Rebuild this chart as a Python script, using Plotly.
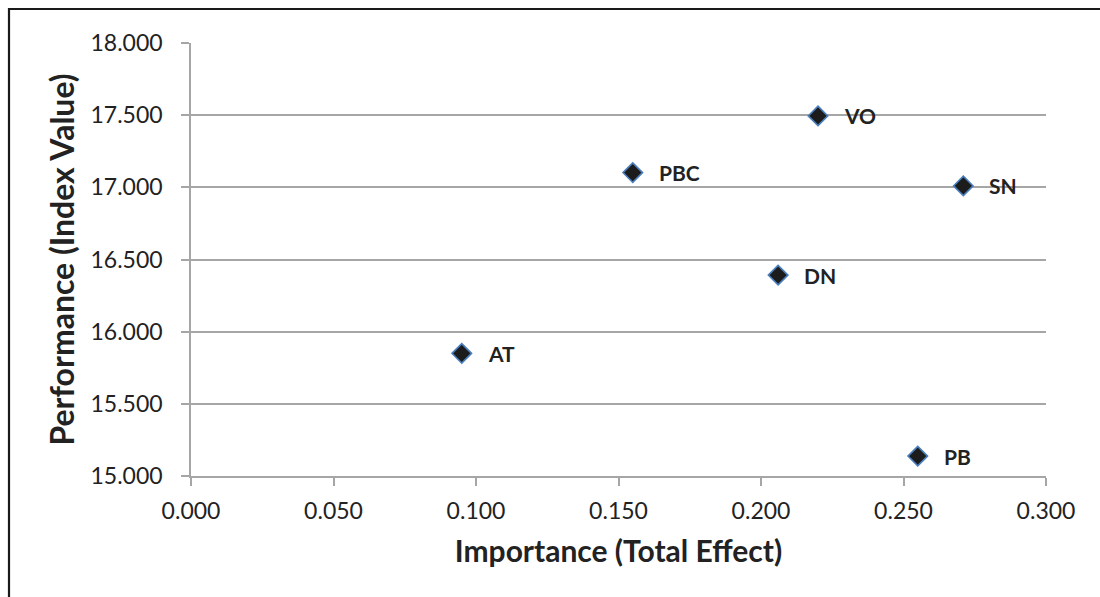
import plotly.graph_objects as go

# Importance-performance map of the model constructs
constructs = ["VO", "PBC", "SN", "DN", "AT", "PB"]
importance = [0.220, 0.155, 0.271, 0.206, 0.095, 0.255]
performance = [17.495, 17.102, 17.010, 16.392, 15.850, 15.138]

x_ticks = [0.0, 0.05, 0.10, 0.15, 0.20, 0.25, 0.30]
y_ticks = [15.0, 15.5, 16.0, 16.5, 17.0, 17.5, 18.0]

FONT = "Lato, 'Open Sans', sans-serif"
TXT = "#222222"
GRID = "#a6a6a6"

fig = go.Figure()
fig.add_trace(go.Scatter(
    x=importance, y=performance, mode="markers",
    marker=dict(symbol="diamond", size=15, color="#1c1c1c",
                line=dict(color="#4a7ebb", width=1.6)),
    hoverinfo="skip", showlegend=False,
))

for name, xv, yv in zip(constructs, importance, performance):
    fig.add_annotation(x=xv, y=yv, text=f"<b>{name}</b>", showarrow=False,
                       xanchor="left", yanchor="middle", xshift=24,
                       font=dict(family=FONT, size=21, color=TXT))

L, R, T, B = 191, 54, 43, 121
W, H = 1100, 597
pw, ph = W - L - R, H - T - B

# outer chart frame: left and top edges, running off the right and bottom
fx0 = (9 - L) / pw
fx1 = (W + 20 - L) / pw
fy1 = (H - 9 - B) / ph
fy0 = (-B - 20) / ph
fig.add_shape(type="rect", xref="paper", yref="paper",
              x0=fx0, x1=fx1, y0=fy0, y1=fy1,
              line=dict(color="#1a1a1a", width=2.2), layer="below")

fig.update_xaxes(
    range=[0, 0.3], tickvals=x_ticks, tickformat=".3f",
    showgrid=False, zeroline=False,
    showline=True, linecolor=GRID, linewidth=1.6,
    ticks="outside", ticklen=8, tickcolor=GRID, tickwidth=1.6,
    ticklabelstandoff=6,
    tickfont=dict(family=FONT, size=23, color=TXT),
    title=dict(text="<b>Importance (Total Effect)</b>", standoff=18,
               font=dict(family=FONT, size=30, color=TXT)),
)
fig.update_yaxes(
    range=[15, 18], tickvals=y_ticks, tickformat=".3f",
    showgrid=True, gridcolor=GRID, gridwidth=1.6, zeroline=False,
    showline=True, linecolor=GRID, linewidth=1.6,
    ticks="outside", ticklen=8, tickcolor=GRID, tickwidth=1.6,
    ticklabelstandoff=14,
    tickfont=dict(family=FONT, size=23, color=TXT),
    title=dict(text="<b>Performance (Index Value)</b>", standoff=6,
               font=dict(family=FONT, size=32, color=TXT)),
)

fig.update_layout(
    width=W, height=H,
    margin=dict(l=L, r=R, t=T, b=B),
    paper_bgcolor="white", plot_bgcolor="white",
)

fig.write_html("out.html")
